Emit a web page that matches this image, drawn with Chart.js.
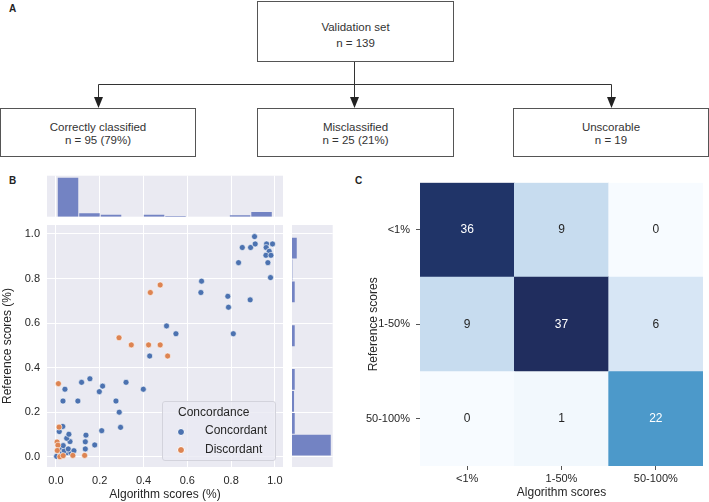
<!DOCTYPE html>
<html><head><meta charset="utf-8">
<script src="https://cdn.jsdelivr.net/npm/chart.js@4.4.1/dist/chart.umd.min.js"></script>
<style>
body{margin:0;background:#fff;width:709px;height:502px;overflow:hidden;position:relative;font-family:"Liberation Sans",Arial,sans-serif;color:#333}
canvas{position:absolute}
.box{position:absolute;border:1px solid #555;box-sizing:border-box;text-align:center;font-size:11.5px;background:#fff;color:#333}
.top{line-height:16px;padding-top:17px}
.low{line-height:13px;padding-top:12px}
.lbl{position:absolute;font-weight:bold;font-size:10px;color:#222}
.lg{position:absolute;font-size:12px;line-height:14px;color:#262626;white-space:nowrap}
.dot{position:absolute;width:6px;height:6px;border-radius:50%;border:0.6px solid #fff;box-sizing:content-box}
</style></head><body>

<!-- Panel A: flow diagram -->
<div class="lbl" style="left:9px;top:3px">A</div>
<svg style="position:absolute;left:0;top:0" width="709" height="170">
  <g stroke="#333" stroke-width="1" fill="none">
    <line x1="354.5" y1="61" x2="354.5" y2="99"/>
    <line x1="98.5" y1="84.5" x2="611.5" y2="84.5"/>
    <line x1="98.5" y1="84.5" x2="98.5" y2="99"/>
    <line x1="611.5" y1="84.5" x2="611.5" y2="99"/>
  </g>
  <g fill="#222">
    <polygon points="94,97 103,97 98.5,108"/>
    <polygon points="350,97 359,97 354.5,108"/>
    <polygon points="607,97 616,97 611.5,108"/>
  </g>
</svg>
<div class="box top" style="left:257px;top:1px;width:197px;height:61px">Validation set<br>n = 139</div>
<div class="box low" style="left:0px;top:108px;width:196px;height:49px">Correctly classified<br>n = 95 (79%)</div>
<div class="box low" style="left:257px;top:108px;width:197px;height:49px">Misclassified<br>n = 25 (21%)</div>
<div class="box low" style="left:513px;top:108px;width:196px;height:49px">Unscorable<br>n = 19</div>

<div class="lbl" style="left:9px;top:175px">B</div>
<div class="lbl" style="left:355px;top:175px">C</div>

<canvas id="topHist" width="290" height="50" style="left:0;top:170px;width:290px;height:50px"></canvas>
<canvas id="scatter" width="290" height="284" style="left:0;top:218px;width:290px;height:284px"></canvas>
<canvas id="rightHist" width="50" height="260" style="left:288px;top:218px;width:50px;height:260px"></canvas>
<canvas id="heat" width="349" height="327" style="left:360px;top:175px;width:349px;height:327px"></canvas>

<!-- scatter legend -->
<div style="position:absolute;left:162px;top:401px;width:114px;height:60px;border:1px solid #d3d3dc;border-radius:3px;background:rgba(234,234,242,0.8);box-sizing:border-box"></div>
<div class="lg" style="left:178px;top:405px">Concordance</div>
<div class="dot" style="left:177px;top:428px;background:#4c72b0"></div>
<div class="lg" style="left:205px;top:423px">Concordant</div>
<div class="dot" style="left:177px;top:446px;background:#dd8452"></div>
<div class="lg" style="left:205px;top:442px">Discordant</div>

<script>
// ---------- data ----------
const concordantX = [0.907,0.851,0.889,0.910,0.962,0.989,0.960,0.974,0.959,0.982,0.834,0.968,0.980,0.665,0.662,0.785,0.887,0.788,0.548,0.810,0.505,0.428,
  0.041,0.117,0.155,0.198,0.213,0.320,0.399,0.032,0.100,0.274,0.289,0.295,0.209,0.177,0.137,0.134,0.134,
  0.003,0.022,0.029,0.050,0.068,0.018,0.038,0.056,0.082,0.033,0.064,0.049,0.059,0.015,0.031];
const concordantY = [0.988,0.939,0.939,0.955,0.955,0.955,0.939,0.922,0.904,0.904,0.871,0.871,0.804,0.788,0.737,0.720,0.704,0.671,0.552,0.552,0.587,0.452,
  0.303,0.334,0.350,0.292,0.317,0.334,0.303,0.250,0.250,0.250,0.200,0.132,0.117,0.053,0.097,0.067,0.035,
  0.002,0.006,0.018,0.018,0.018,0.039,0.027,0.035,0.027,0.050,0.068,0.083,0.101,0.113,0.136];
const discordantX = [0.476,0.431,0.288,0.344,0.423,0.476,0.510,0.011,0.014,0.005,0.009,0.006,0.018,0.033,0.077,0.131];
const discordantY = [0.771,0.737,0.534,0.502,0.502,0.502,0.452,0.328,0.133,0.066,0.052,0.028,0.000,0.005,0.006,0.006];

const scatterTicks = [0.0,0.2,0.4,0.6,0.8,1.0];

const algBinEdges = [0.006,0.104,0.202,0.301,0.399,0.497,0.595,0.693,0.792,0.890,0.988];
const algBinCounts = [57,5,3,0,3,1,0,0,2,7];
const refBinEdges = [0.003,0.101,0.199,0.298,0.396,0.494,0.592,0.691,0.789,0.887,0.985];
const refBinCounts = [57,4,3,4,0,4,0,4,0.5,7];

const heatAlgLabels = ['<1%','1-50%','50-100%'];
const heatRefLabels = ['<1%','1-50%','50-100%'];
const heatCounts = [[36,9,0],[9,37,6],[0,1,22]];

// ---------- helpers ----------
Chart.defaults.font.family = '"Liberation Sans", Arial, sans-serif';
Chart.defaults.color = '#262626';
const BG = '#eaeaf2';
const bgPlugin = {id:'bgArea', beforeDraw(c){const {ctx,chartArea:a}=c;ctx.save();ctx.fillStyle=BG;ctx.fillRect(a.left,a.top,a.right-a.left,a.bottom-a.top);ctx.restore();}};
const setTicks = vals => s => { s.ticks = vals.map(v=>({value:v})); };
const fitTo = (dim, val) => s => { s[dim] = val; s.paddingTop = 0; s.paddingBottom = 0; s.paddingLeft = 0; s.paddingRight = 0; };
const XMIN=-0.041, XMAX=1.037, YMIN=-0.046, YMAX=1.04;
const centers = e => e.slice(0,-1).map((v,i)=>(v+e[i+1])/2);
const common = {responsive:false, animation:false, events:[], plugins:{legend:{display:false}, tooltip:{enabled:false}}};

// ---------- scatter ----------
new Chart(document.getElementById('scatter'), {
  type:'scatter',
  data:{datasets:[
    {data:discordantX.map((x,i)=>({x,y:discordantY[i]})), backgroundColor:'#dd8452', borderColor:'#fff', borderWidth:0.6, pointRadius:3},
    {data:concordantX.map((x,i)=>({x,y:concordantY[i]})), backgroundColor:'#4c72b0', borderColor:'#fff', borderWidth:0.6, pointRadius:3}
  ]},
  options:{...common,
    layout:{padding:{top:7,right:7,left:0,bottom:0}},
    scales:{
      x:{type:'linear', min:XMIN, max:XMAX, afterBuildTicks:setTicks(scatterTicks),
         grid:{color:'#fff', lineWidth:1, drawTicks:false}, border:{display:false},
         ticks:{padding:7, font:{size:11}, callback:v=>v.toFixed(1), autoSkip:false},
         title:{display:true, text:'Algorithm scores (%)', font:{size:12}, padding:{top:0,bottom:0}},
         afterFit:fitTo('height',35)},
      y:{type:'linear', min:YMIN, max:YMAX, afterBuildTicks:setTicks(scatterTicks),
         grid:{color:'#fff', lineWidth:1, drawTicks:false}, border:{display:false},
         ticks:{padding:7, font:{size:11}, callback:v=>v.toFixed(1), autoSkip:false},
         title:{display:true, text:'Reference scores (%)', font:{size:12}, padding:{top:0,bottom:0}},
         afterFit:fitTo('width',47)}
    }},
  plugins:[bgPlugin]
});

// ---------- top histogram ----------
new Chart(document.getElementById('topHist'), {
  type:'bar',
  data:{datasets:[{data:centers(algBinEdges).map((x,i)=>({x,y:algBinCounts[i]})), backgroundColor:'#7383c3', barPercentage:0.955, categoryPercentage:1}]},
  options:{...common,
    layout:{padding:{left:47,right:7,top:5.7,bottom:3.3}},
    scales:{
      x:{type:'linear', offset:false, min:XMIN, max:XMAX, afterBuildTicks:setTicks(scatterTicks), grid:{color:'#fff', drawTicks:false, offset:false}, border:{display:false}, ticks:{display:false}, afterFit:fitTo('height',0)},
      y:{type:'linear', min:0, max:Math.max(...algBinCounts)*1.05, display:false}
    }},
  plugins:[bgPlugin]
});

// ---------- right histogram ----------
new Chart(document.getElementById('rightHist'), {
  type:'bar',
  data:{datasets:[{data:centers(refBinEdges).map((y,i)=>({x:refBinCounts[i],y})), backgroundColor:'#7383c3', barPercentage:0.955, categoryPercentage:1}]},
  options:{...common, indexAxis:'y',
    layout:{padding:{left:4,right:5.3,top:7,bottom:11}},
    scales:{
      y:{type:'linear', offset:false, min:YMIN, max:YMAX, afterBuildTicks:setTicks(scatterTicks), grid:{color:'#fff', drawTicks:false, offset:false}, border:{display:false}, ticks:{display:false}, afterFit:fitTo('width',0)},
      x:{type:'linear', min:0, max:Math.max(...refBinCounts)*1.05, display:false}
    }},
  plugins:[bgPlugin]
});

// ---------- heatmap ----------
const bluesStops = ['#f7fbff','#deebf7','#c6dbef','#9ecae1','#6baed6','#4292c6','#2171b5','#1f4f8e','#202d5e'];
function hex2rgb(h){return [1,3,5].map(i=>parseInt(h.substr(i,2),16));}
function blues(t){
  t=Math.max(0,Math.min(1,t));
  const p=t*(bluesStops.length-1), i=Math.min(Math.floor(p),bluesStops.length-2), f=p-i;
  const a=hex2rgb(bluesStops[i]), b=hex2rgb(bluesStops[i+1]);
  return 'rgb('+a.map((v,k)=>Math.round(v+(b[k]-v)*f)).join(',')+')';
}
const allCounts = heatCounts.flat();
const vmin = Math.min(...allCounts), vmax = Math.max(...allCounts);
const rowsBottomUp = heatCounts.map((r,i)=>({row:r, label:heatRefLabels[i]})).reverse();

const annotPlugin = {id:'annot', afterDatasetsDraw(c){
  const ctx=c.ctx; ctx.save();
  ctx.font='12px "Liberation Sans", Arial, sans-serif'; ctx.textAlign='center'; ctx.textBaseline='middle';
  c.data.datasets.forEach((ds,di)=>{
    c.getDatasetMeta(di).data.forEach((el,i)=>{
      const v=ds.counts[i]; const t=(v-vmin)/(vmax-vmin);
      ctx.fillStyle = t>0.5 ? '#ffffff' : '#262626';
      ctx.fillText(String(v), el.x, (el.y+el.base)/2);
    });
  });
  ctx.restore();
}};

new Chart(document.getElementById('heat'), {
  type:'bar',
  data:{labels:heatAlgLabels, datasets:rowsBottomUp.map(r=>({
    label:r.label, data:r.row.map(()=>1), counts:r.row,
    backgroundColor:r.row.map(v=>blues((v-vmin)/(vmax-vmin))),
    borderWidth:0, barPercentage:1, categoryPercentage:1
  }))},
  options:{...common,
    layout:{padding:{top:7.7,right:6,left:0,bottom:0}},
    scales:{
      x:{stacked:true, offset:true,
         grid:{offset:false, drawOnChartArea:false, drawTicks:true, tickLength:4, color:'#555'}, border:{display:false},
         ticks:{padding:2, font:{size:11}},
         title:{display:true, text:'Algorithm scores', font:{size:12}, padding:{top:0,bottom:2}},
         afterFit:fitTo('height',36)},
      y:{stacked:true, min:0, max:heatRefLabels.length,
         afterBuildTicks:s=>{s.ticks=heatRefLabels.map((l,i)=>({value:heatRefLabels.length-0.5-i}));},
         grid:{drawOnChartArea:false, drawTicks:true, tickLength:4, color:'#555'}, border:{display:false},
         ticks:{padding:6, font:{size:11}, autoSkip:false, callback:v=>heatRefLabels[Math.round(heatRefLabels.length-0.5-v)]},
         title:{display:true, text:'Reference scores', font:{size:12}, padding:{top:6,bottom:0}},
         afterFit:fitTo('width',60)}
    }},
  plugins:[annotPlugin]
});
</script>
</body></html>
